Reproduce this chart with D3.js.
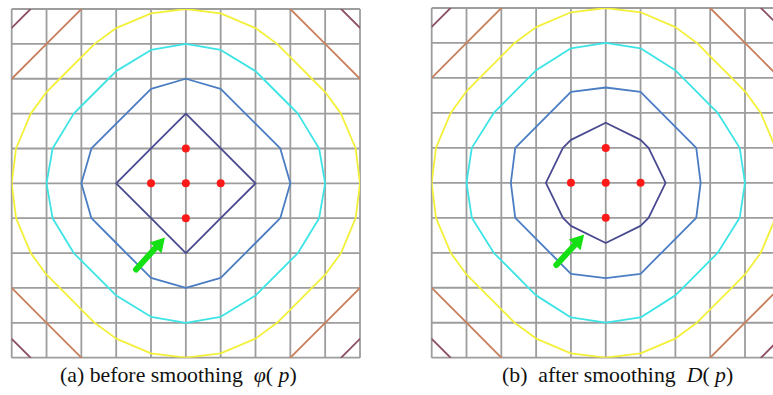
<!DOCTYPE html>
<html>
<head>
<meta charset="utf-8">
<script src="https://cdn.jsdelivr.net/npm/d3@7"></script>
<style>
  html, body { margin: 0; padding: 0; background: #fff; }
  svg { display: block; }
</style>
</head>
<body>
<svg id="chart" width="773" height="395"></svg>
<script>
// Grid node offsets from the centre node, in cell units
const gridSteps = [-5, -4, -3, -2, -1, 0, 1, 2, 3, 4, 5];

// Sample points (red dots), in grid units
const samplePoints = [[0, 0], [-1, 0], [1, 0], [0, -1], [0, 1]];

// Iso-levels drawn and their colours
const levels = [1, 2, 3, 4, 5, 6];
const levelColors = ["#4a4a90", "#4a7dc2", "#3de4e6", "#f3f03a", "#c8805c", "#8d4f66"];

// Distance field before smoothing, one quadrant (row = |y|, column = |x|)
const phiQuadrant = [
  [0,    0,    1,    2,    3,    4   ],
  [0,    1,    1.41, 2.24, 3.16, 4.12],
  [1,    1.41, 2.24, 2.83, 3.61, 4.47],
  [2,    2.24, 2.83, 3.61, 4.24, 5   ],
  [3,    3.16, 3.61, 4.24, 5,    5.66],
  [4,    4.12, 4.47, 5,    5.66, 6.40]
];

// Distance field after smoothing, one quadrant (row = |y|, column = |x|)
const smoothQuadrant = [
  [0,    0,    1.39, 2.23, 3,    4   ],
  [0,    0.8,  1.67, 2.22, 3.14, 4.12],
  [1.39, 1.67, 2.22, 2.83, 3.61, 4.47],
  [2.23, 2.22, 2.83, 3.61, 4.24, 5   ],
  [3,    3.14, 3.61, 4.24, 5,    5.66],
  [4,    4.12, 4.47, 5,    5.66, 6.40]
];

// Arrow annotations: [tail, tip] in grid units
const arrowBefore = [[-1.43, 2.47], [-0.6, 1.55]];
const arrowAfter  = [[-1.42, 2.35], [-0.62, 1.48]];

// Captions, split into runs: [text, italic]
const captionBefore = [["(a) before smoothing  ", false], ["\u03C6", true], ["(", false], [" p", true], [")", false]];
const captionAfter  = [["(b)\u00A0\u00A0after smoothing  ", false], ["D", true], ["(", false], [" p", true], [")", false]];

const panels = [
  { id: "a", field: phiQuadrant,    arrow: arrowBefore, caption: captionBefore,
    left: 11.7, right: 360, top: 9, bottom: 357.7, captionX: 60 },
  { id: "b", field: smoothQuadrant, arrow: arrowAfter,  caption: captionAfter,
    left: 431.7, right: 779.8, top: 8, bottom: 357.7, captionX: 502 }
];

const svg = d3.select("#chart");
const n = gridSteps.length;

panels.forEach(p => {
  const x = d3.scaleLinear().domain([-5, 5]).range([p.left, p.right]);
  const y = d3.scaleLinear().domain([-5, 5]).range([p.top, p.bottom]);
  const g = svg.append("g");

  // clip to the node rectangle so only the iso-lines remain
  const clipId = "clip-" + p.id;
  svg.append("clipPath").attr("id", clipId)
    .append("rect")
    .attr("x", x(-5)).attr("y", y(-5))
    .attr("width", x(5) - x(-5)).attr("height", y(5) - y(-5));

  // grid lines
  g.append("g").selectAll("line").data(gridSteps).join("line")
    .attr("x1", d => x(d)).attr("x2", d => x(d))
    .attr("y1", y(-5)).attr("y2", y(5))
    .attr("stroke", "#9d9d9d").attr("stroke-width", 1.8);
  g.append("g").selectAll("line").data(gridSteps).join("line")
    .attr("y1", d => y(d)).attr("y2", d => y(d))
    .attr("x1", x(-5)).attr("x2", x(5))
    .attr("stroke", "#9d9d9d").attr("stroke-width", 1.8);

  // full field from the quadrant (mirror symmetric)
  const values = [];
  gridSteps.forEach(gy => gridSteps.forEach(gx => {
    values.push(p.field[Math.abs(gy)][Math.abs(gx)]);
  }));

  const contours = d3.contours().size([n, n]).thresholds(levels)(values);
  const proj = d3.geoTransform({
    point(px, py) { this.stream.point(x(px - 0.5 - 5), y(py - 0.5 - 5)); }
  });
  const path = d3.geoPath(proj);
  const color = d3.scaleOrdinal().domain(levels).range(levelColors);

  g.append("g").attr("clip-path", `url(#${clipId})`)
    .selectAll("path").data(contours).join("path")
    .attr("d", path)
    .attr("fill", "none")
    .attr("stroke", d => color(d.value))
    .attr("stroke-width", 1.8)
    .attr("stroke-linejoin", "round");

  // sample points
  g.append("g").selectAll("circle").data(samplePoints).join("circle")
    .attr("cx", d => x(d[0])).attr("cy", d => y(d[1]))
    .attr("r", 4).attr("fill", "#ff1a1a");

  // green arrow
  const [t0, t1] = p.arrow;
  const ax0 = x(t0[0]), ay0 = y(t0[1]), ax1 = x(t1[0]), ay1 = y(t1[1]);
  const ang = Math.atan2(ay1 - ay0, ax1 - ax0);
  const headLen = 14, headHalf = 8;
  const bx = ax1 - headLen * Math.cos(ang), by = ay1 - headLen * Math.sin(ang);
  g.append("line")
    .attr("x1", ax0).attr("y1", ay0).attr("x2", bx + 2 * Math.cos(ang)).attr("y2", by + 2 * Math.sin(ang))
    .attr("stroke", "#14e014").attr("stroke-width", 6).attr("stroke-linecap", "round");
  const nx = -Math.sin(ang), ny = Math.cos(ang);
  g.append("path")
    .attr("d", d3.line()([
      [ax1, ay1],
      [bx + headHalf * nx, by + headHalf * ny],
      [bx - headHalf * nx, by - headHalf * ny]
    ]) + "Z")
    .attr("fill", "#14e014");

  // caption
  const txt = svg.append("text")
    .attr("x", p.captionX).attr("y", 382)
    .attr("font-family", "'Liberation Serif', 'Times New Roman', serif")
    .attr("font-size", 21.8).attr("fill", "#111")
    .attr("xml:space", "preserve").style("white-space", "pre");
  p.caption.forEach(([s, it]) => {
    txt.append("tspan").text(s).attr("font-style", it ? "italic" : "normal");
  });
});
</script>
</body>
</html>
